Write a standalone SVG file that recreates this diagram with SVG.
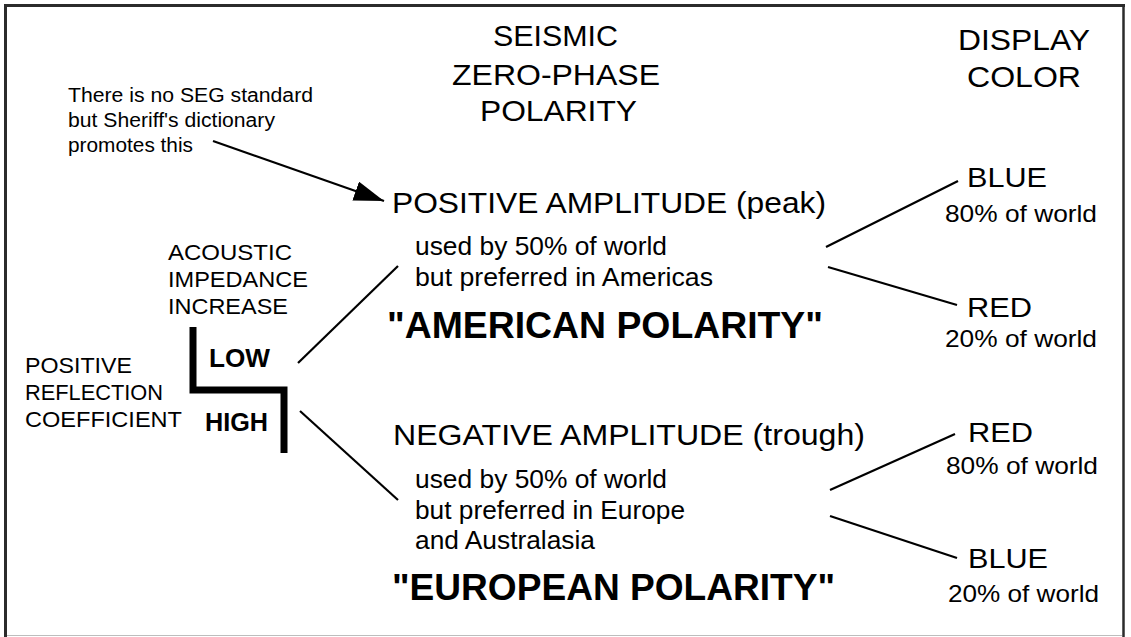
<svg xmlns="http://www.w3.org/2000/svg" width="1131" height="637" viewBox="0 0 1131 637">
<style>
text{font-family:"Liberation Sans",Arial,sans-serif;fill:#000}
.h{font-size:29px}
.note{font-size:20px}
.lbl{font-size:22px}
.bold{font-size:25px;font-weight:bold}
.amp{font-size:29px}
.sub{font-size:25px}
.pol{font-size:36px;font-weight:bold}
.col{font-size:28px}
.pct{font-size:24px}
.ln{stroke:#000;stroke-width:2.2;fill:none}
</style>
<defs>
<marker id="ah" markerUnits="userSpaceOnUse" markerWidth="32" markerHeight="22" refX="30" refY="10" orient="auto">
<path d="M0,0 L30,10 L0,20 z" fill="#000"/>
</marker>
</defs>
<rect x="0" y="0" width="1131" height="637" fill="#fff"/>
<g id="frame">
<line x1="4" y1="5.5" x2="1125" y2="5.5" stroke="#2b2b2b" stroke-width="3"/>
<line x1="5.5" y1="4" x2="5.5" y2="637" stroke="#2b2b2b" stroke-width="3"/>
<line x1="1123.5" y1="4" x2="1123.5" y2="637" stroke="#2b2b2b" stroke-width="2.5"/>
<line x1="7" y1="635.5" x2="1122" y2="635.5" stroke="#bdbdbd" stroke-width="1"/>
</g>
<g id="heading-polarity">
<text class="h" x="493" y="46" textLength="125" lengthAdjust="spacingAndGlyphs">SEISMIC</text>
<text class="h" x="452" y="85" textLength="208" lengthAdjust="spacingAndGlyphs">ZERO-PHASE</text>
<text class="h" x="480" y="121" textLength="157" lengthAdjust="spacingAndGlyphs">POLARITY</text>
</g>
<g id="heading-color">
<text class="h" x="958" y="50" textLength="132" lengthAdjust="spacingAndGlyphs">DISPLAY</text>
<text class="h" x="967" y="87" textLength="114" lengthAdjust="spacingAndGlyphs">COLOR</text>
</g>
<g id="note">
<text class="note" x="68" y="102" textLength="245" lengthAdjust="spacingAndGlyphs">There is no SEG standard</text>
<text class="note" x="68" y="127" textLength="207" lengthAdjust="spacingAndGlyphs">but Sheriff's dictionary</text>
<text class="note" x="68" y="152" textLength="125" lengthAdjust="spacingAndGlyphs">promotes this</text>
</g>
<g id="acoustic">
<text class="lbl" x="168" y="260" textLength="124" lengthAdjust="spacingAndGlyphs">ACOUSTIC</text>
<text class="lbl" x="168" y="287" textLength="140" lengthAdjust="spacingAndGlyphs">IMPEDANCE</text>
<text class="lbl" x="168" y="314" textLength="120" lengthAdjust="spacingAndGlyphs">INCREASE</text>
</g>
<g id="reflection">
<text class="lbl" x="25" y="373" textLength="107" lengthAdjust="spacingAndGlyphs">POSITIVE</text>
<text class="lbl" x="25" y="400" textLength="138" lengthAdjust="spacingAndGlyphs">REFLECTION</text>
<text class="lbl" x="25" y="427" textLength="157" lengthAdjust="spacingAndGlyphs">COEFFICIENT</text>
</g>
<g id="step">
<polyline points="193,327 193,390 284,390 284,453" fill="none" stroke="#000" stroke-width="7" stroke-linejoin="miter"/>
<text class="bold" x="209" y="367" textLength="61" lengthAdjust="spacingAndGlyphs">LOW</text>
<text class="bold" x="205" y="431" textLength="63" lengthAdjust="spacingAndGlyphs">HIGH</text>
</g>
<g id="positive">
<text class="amp" x="392" y="213" textLength="434" lengthAdjust="spacingAndGlyphs">POSITIVE AMPLITUDE (peak)</text>
<text class="sub" x="415" y="255" textLength="252" lengthAdjust="spacingAndGlyphs">used by 50% of world</text>
<text class="sub" x="415" y="286" textLength="298" lengthAdjust="spacingAndGlyphs">but preferred in Americas</text>
<text class="pol" x="387" y="338" textLength="436" lengthAdjust="spacingAndGlyphs">"AMERICAN POLARITY"</text>
</g>
<g id="negative">
<text class="amp" x="393" y="445" textLength="472" lengthAdjust="spacingAndGlyphs">NEGATIVE AMPLITUDE (trough)</text>
<text class="sub" x="415" y="488" textLength="252" lengthAdjust="spacingAndGlyphs">used by 50% of world</text>
<text class="sub" x="415" y="519" textLength="270" lengthAdjust="spacingAndGlyphs">but preferred in Europe</text>
<text class="sub" x="415" y="549" textLength="180" lengthAdjust="spacingAndGlyphs">and Australasia</text>
<text class="pol" x="392" y="600" textLength="443" lengthAdjust="spacingAndGlyphs">"EUROPEAN POLARITY"</text>
</g>
<g id="blue-top">
<text class="col" x="967" y="187" textLength="80" lengthAdjust="spacingAndGlyphs">BLUE</text>
<text class="pct" x="945" y="222" textLength="152" lengthAdjust="spacingAndGlyphs">80% of world</text>
</g>
<g id="red-top">
<text class="col" x="967" y="317" textLength="65" lengthAdjust="spacingAndGlyphs">RED</text>
<text class="pct" x="945" y="347" textLength="152" lengthAdjust="spacingAndGlyphs">20% of world</text>
</g>
<g id="red-bottom">
<text class="col" x="968" y="442" textLength="65" lengthAdjust="spacingAndGlyphs">RED</text>
<text class="pct" x="946" y="474" textLength="152" lengthAdjust="spacingAndGlyphs">80% of world</text>
</g>
<g id="blue-bottom">
<text class="col" x="968" y="568" textLength="80" lengthAdjust="spacingAndGlyphs">BLUE</text>
<text class="pct" x="948" y="602" textLength="151" lengthAdjust="spacingAndGlyphs">20% of world</text>
</g>
<g id="connectors">
<line class="ln" x1="213" y1="141" x2="384" y2="201" stroke-width="2.5" marker-end="url(#ah)"/>
<line class="ln" x1="298" y1="363" x2="398" y2="266"/>
<line class="ln" x1="300" y1="411" x2="398" y2="500"/>
<line class="ln" x1="826" y1="247" x2="958" y2="181"/>
<line class="ln" x1="828" y1="267" x2="957" y2="305"/>
<line class="ln" x1="830" y1="490" x2="955" y2="434"/>
<line class="ln" x1="830" y1="516" x2="957" y2="558"/>
</g>
</svg>
